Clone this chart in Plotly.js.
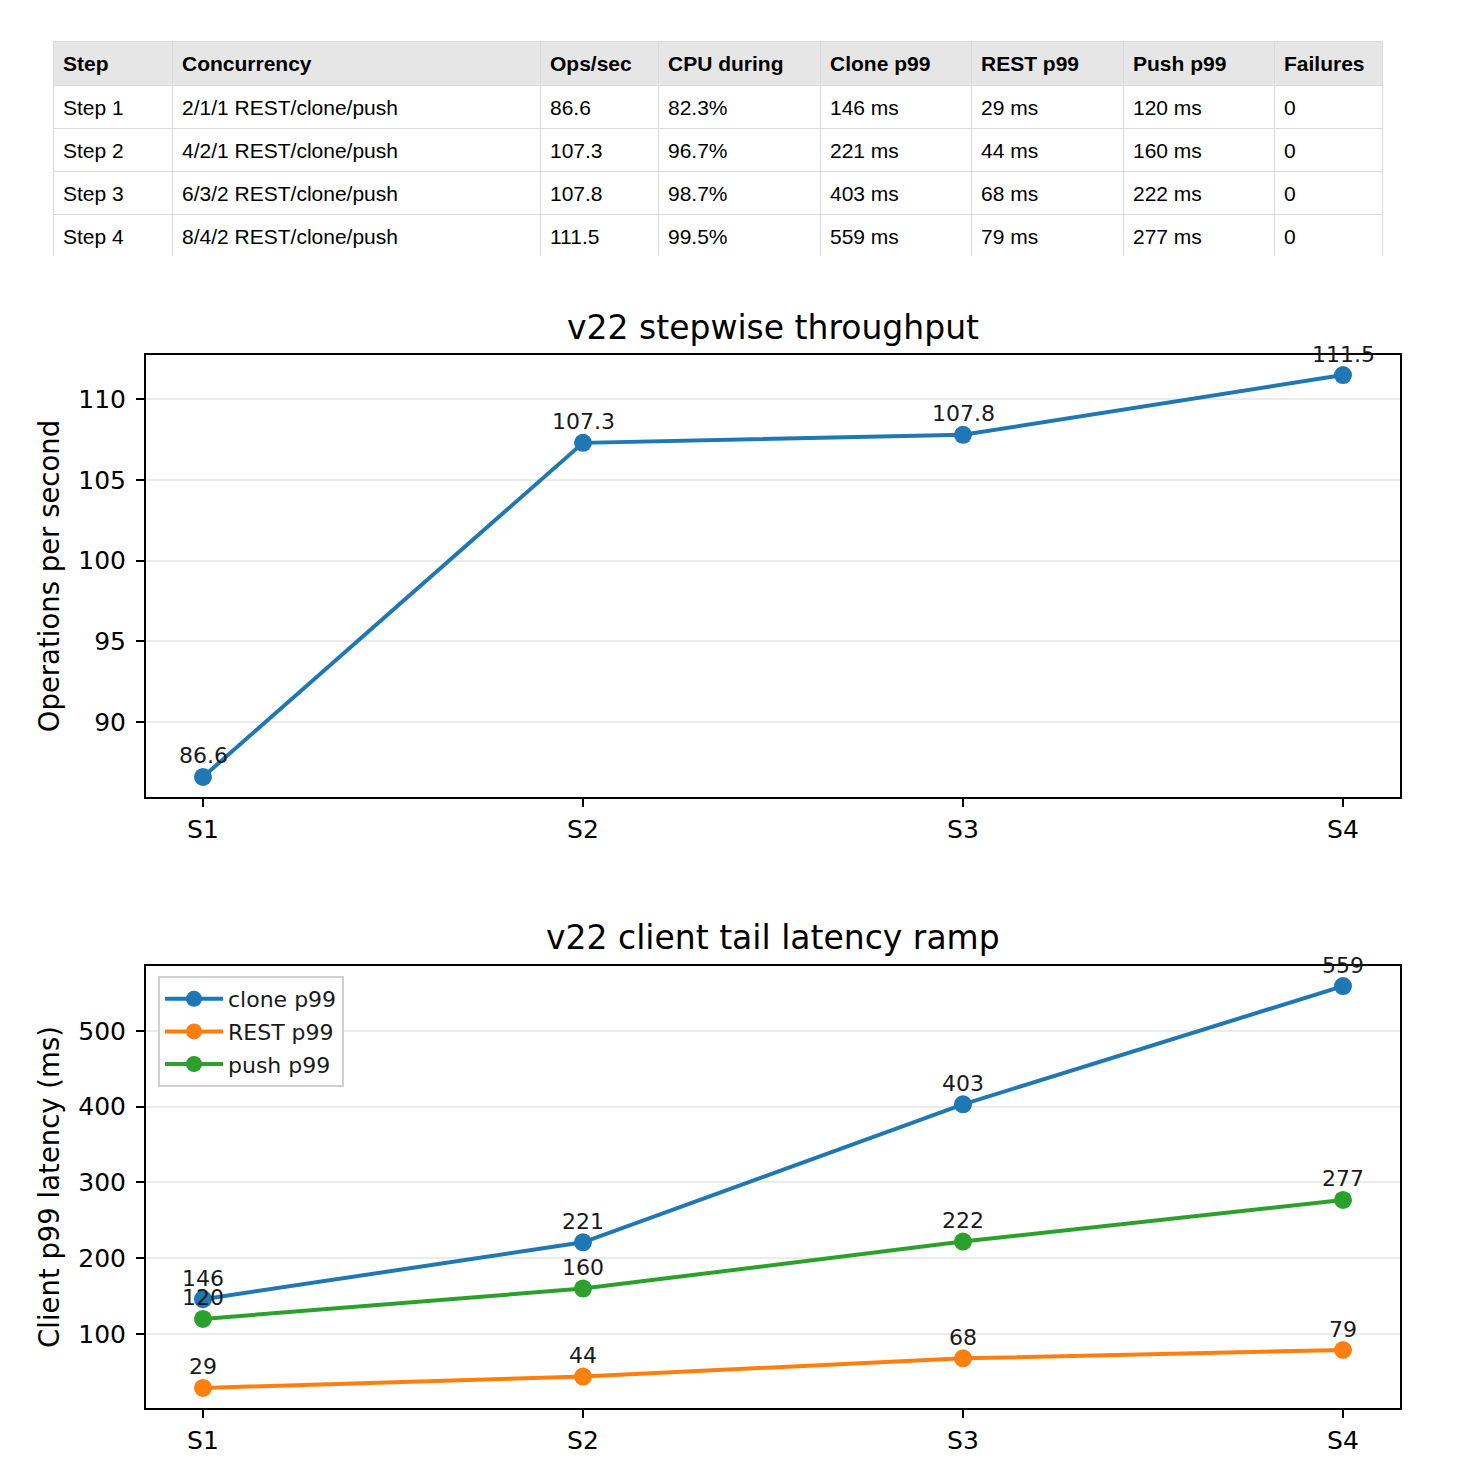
<!DOCTYPE html>
<html>
<head>
<meta charset="utf-8">
<script src="https://cdn.plot.ly/plotly-3.0.1.min.js"></script>
<style>
  html, body { margin: 0; padding: 0; background: #ffffff; }
  #chart { width: 1462px; height: 1470px; }
</style>
</head>
<body>
<div id="chart"></div>
<script>
// Stepwise load test results for v22
const steps = ['Step 1', 'Step 2', 'Step 3', 'Step 4'];
const stepTicks = ['S1', 'S2', 'S3', 'S4'];
const concurrency = ['2/1/1 REST/clone/push', '4/2/1 REST/clone/push', '6/3/2 REST/clone/push', '8/4/2 REST/clone/push'];
const opsPerSec = [86.6, 107.3, 107.8, 111.5];
const cpuDuring = [82.3, 96.7, 98.7, 99.5];
const cloneP99 = [146, 221, 403, 559];
const restP99 = [29, 44, 68, 79];
const pushP99 = [120, 160, 222, 277];
const failures = [0, 0, 0, 0];
const tableHeaders = ['Step', 'Concurrency', 'Ops/sec', 'CPU during', 'Clone p99', 'REST p99', 'Push p99', 'Failures'];
const opsTicks = [90, 95, 100, 105, 110];
const latencyTicks = [100, 200, 300, 400, 500];

const BLUE = '#1f77b4', ORANGE = '#ff7f0e', GREEN = '#2ca02c';
const PLOT_FONT = 'DejaVu Sans, sans-serif';
const TABLE_FONT = 'Liberation Sans, Arial, sans-serif';
const CLEAR = 'rgba(0,0,0,0)';

// px -> paper helpers (page is 1462 x 1470 with zero margins)
const W = 1462, H = 1470;
const px = v => v / W;
const py = v => 1 - v / H;

const ms = arr => arr.map(v => v + ' ms');

const headerValues = tableHeaders.map(h => '<b>' + h + '</b>');
const cellValues = [
  steps,
  concurrency,
  opsPerSec.map(v => v.toFixed(1)),
  cpuDuring.map(v => v.toFixed(1) + '%'),
  ms(cloneP99),
  ms(restP99),
  ms(pushP99),
  failures.map(String)
];
const blankHeader = tableHeaders.map(() => '');
const blankCells = cellValues.map(col => col.map(() => ''));
const colWidths = [119, 368, 118, 162, 151, 152, 151, 108];
const TABLE_LEFT = 53, TABLE_RIGHT = 1382, TABLE_TOP = 41, TABLE_BOTTOM = 257;

// table grid: fills and borders
const tableGrid = {
  type: 'table',
  domain: { x: [px(TABLE_LEFT), px(TABLE_RIGHT)], y: [py(TABLE_BOTTOM), py(TABLE_TOP)] },
  columnwidth: colWidths,
  header: {
    values: blankHeader, align: 'left', height: 44,
    fill: { color: '#e6e6e6' },
    line: { color: '#dadada', width: 1 },
    font: { family: TABLE_FONT, size: 21, color: '#000000' }
  },
  cells: {
    values: blankCells, align: 'left', height: 43,
    fill: { color: '#ffffff' },
    line: { color: '#dadada', width: 1 },
    font: { family: TABLE_FONT, size: 21, color: '#000000' }
  }
};

// table text, vertically centred within the rows
const tableText = {
  type: 'table',
  domain: { x: [px(TABLE_LEFT + 2), px(TABLE_RIGHT + 2)], y: [py(TABLE_BOTTOM + 3), py(TABLE_TOP + 3)] },
  columnwidth: colWidths,
  header: {
    values: headerValues, align: 'left', height: 47,
    fill: { color: CLEAR }, line: { color: CLEAR, width: 0 },
    font: { family: TABLE_FONT, size: 21, color: '#000000' }
  },
  cells: {
    values: cellValues, align: 'left', height: 43,
    fill: { color: CLEAR }, line: { color: CLEAR, width: 0 },
    font: { family: TABLE_FONT, size: 21, color: '#000000' }
  }
};

function lineTrace(y, color, name, xa, ya, showlegend) {
  return {
    type: 'scatter',
    mode: 'lines+markers',
    x: stepTicks,
    y: y,
    name: name,
    legendgroup: name,
    xaxis: xa,
    yaxis: ya,
    showlegend: showlegend,
    line: { color: color, width: 4 },
    marker: { color: color, size: 18 },
    hoverinfo: 'x+y'
  };
}

const traces = [
  tableGrid,
  tableText,
  lineTrace(opsPerSec, BLUE, 'ops/sec', 'x', 'y', false),
  lineTrace(cloneP99, BLUE, 'clone p99', 'x2', 'y2', true),
  lineTrace(restP99, ORANGE, 'REST p99', 'x2', 'y2', true),
  lineTrace(pushP99, GREEN, 'push p99', 'x2', 'y2', true)
];

// value labels above each point
function valueLabels(values, xref, yref) {
  return values.map((v, i) => ({
    x: stepTicks[i], y: v, xref: xref, yref: yref,
    text: String(v), showarrow: false,
    yshift: 21, xanchor: 'center', yanchor: 'middle',
    font: { family: PLOT_FONT, size: 22, color: '#1a1a1a' }
  }));
}

function titleAnn(text, yPx) {
  return {
    text: text, xref: 'paper', yref: 'paper',
    x: px(773), y: py(yPx), xanchor: 'center', yanchor: 'middle',
    showarrow: false,
    font: { family: PLOT_FONT, size: 33, color: '#000000' }
  };
}

const baseX = {
  type: 'category',
  range: [-0.15, 3.15],
  showline: true, mirror: true, linecolor: '#000000', linewidth: 2,
  ticks: 'outside', ticklen: 8, tickwidth: 2, tickcolor: '#000000',
  showgrid: false, zeroline: false,
  tickfont: { family: PLOT_FONT, size: 25, color: '#000000' },
  ticklabelstandoff: 1,
  fixedrange: true
};

function baseY(range, ticks, title) {
  return {
    range: range,
    tickmode: 'array', tickvals: ticks, ticktext: ticks.map(String),
    showline: true, mirror: true, linecolor: '#000000', linewidth: 2,
    ticks: 'outside', ticklen: 8, tickwidth: 2, tickcolor: '#000000',
    showgrid: true, gridcolor: '#ebebeb', gridwidth: 2,
    zeroline: false,
    tickfont: { family: PLOT_FONT, size: 25, color: '#000000' },
    ticklabelstandoff: 5,
    automargin: false,
    fixedrange: true,
    title: { text: title, font: { family: PLOT_FONT, size: 27.5, color: '#000000' }, standoff: 11 }
  };
}

const xDomain = [px(146), px(1400)];

const layout = {
  width: W, height: H,
  margin: { l: 0, r: 0, t: 0, b: 0 },
  paper_bgcolor: '#ffffff', plot_bgcolor: '#ffffff',
  font: { family: PLOT_FONT, size: 20, color: '#000000' },
  showlegend: true,
  xaxis: Object.assign({}, baseX, { domain: xDomain, anchor: 'y' }),
  yaxis: Object.assign(baseY([85.355, 112.745], opsTicks, 'Operations per second'), { domain: [py(797), py(355)], anchor: 'x' }),
  xaxis2: Object.assign({}, baseX, { domain: xDomain, anchor: 'y2' }),
  yaxis2: Object.assign(baseY([2.5, 585.5], latencyTicks, 'Client p99 latency (ms)'), { domain: [py(1408), py(966)], anchor: 'x2' }),
  legend: {
    x: px(158), y: py(976), xanchor: 'left', yanchor: 'top',
    bgcolor: 'rgba(255,255,255,0.8)', bordercolor: '#d0d0d0', borderwidth: 2,
    font: { family: PLOT_FONT, size: 22, color: '#1a1a1a' },
    tracegroupgap: 1,
    itemwidth: 58
  },
  annotations: [
    titleAnn('v22 stepwise throughput', 327),
    titleAnn('v22 client tail latency ramp', 938)
  ].concat(
    valueLabels(opsPerSec, 'x', 'y'),
    valueLabels(cloneP99, 'x2', 'y2'),
    valueLabels(restP99, 'x2', 'y2'),
    valueLabels(pushP99, 'x2', 'y2')
  )
};

Plotly.newPlot('chart', traces, layout, { displayModeBar: false, staticPlot: true });
</script>
</body>
</html>
